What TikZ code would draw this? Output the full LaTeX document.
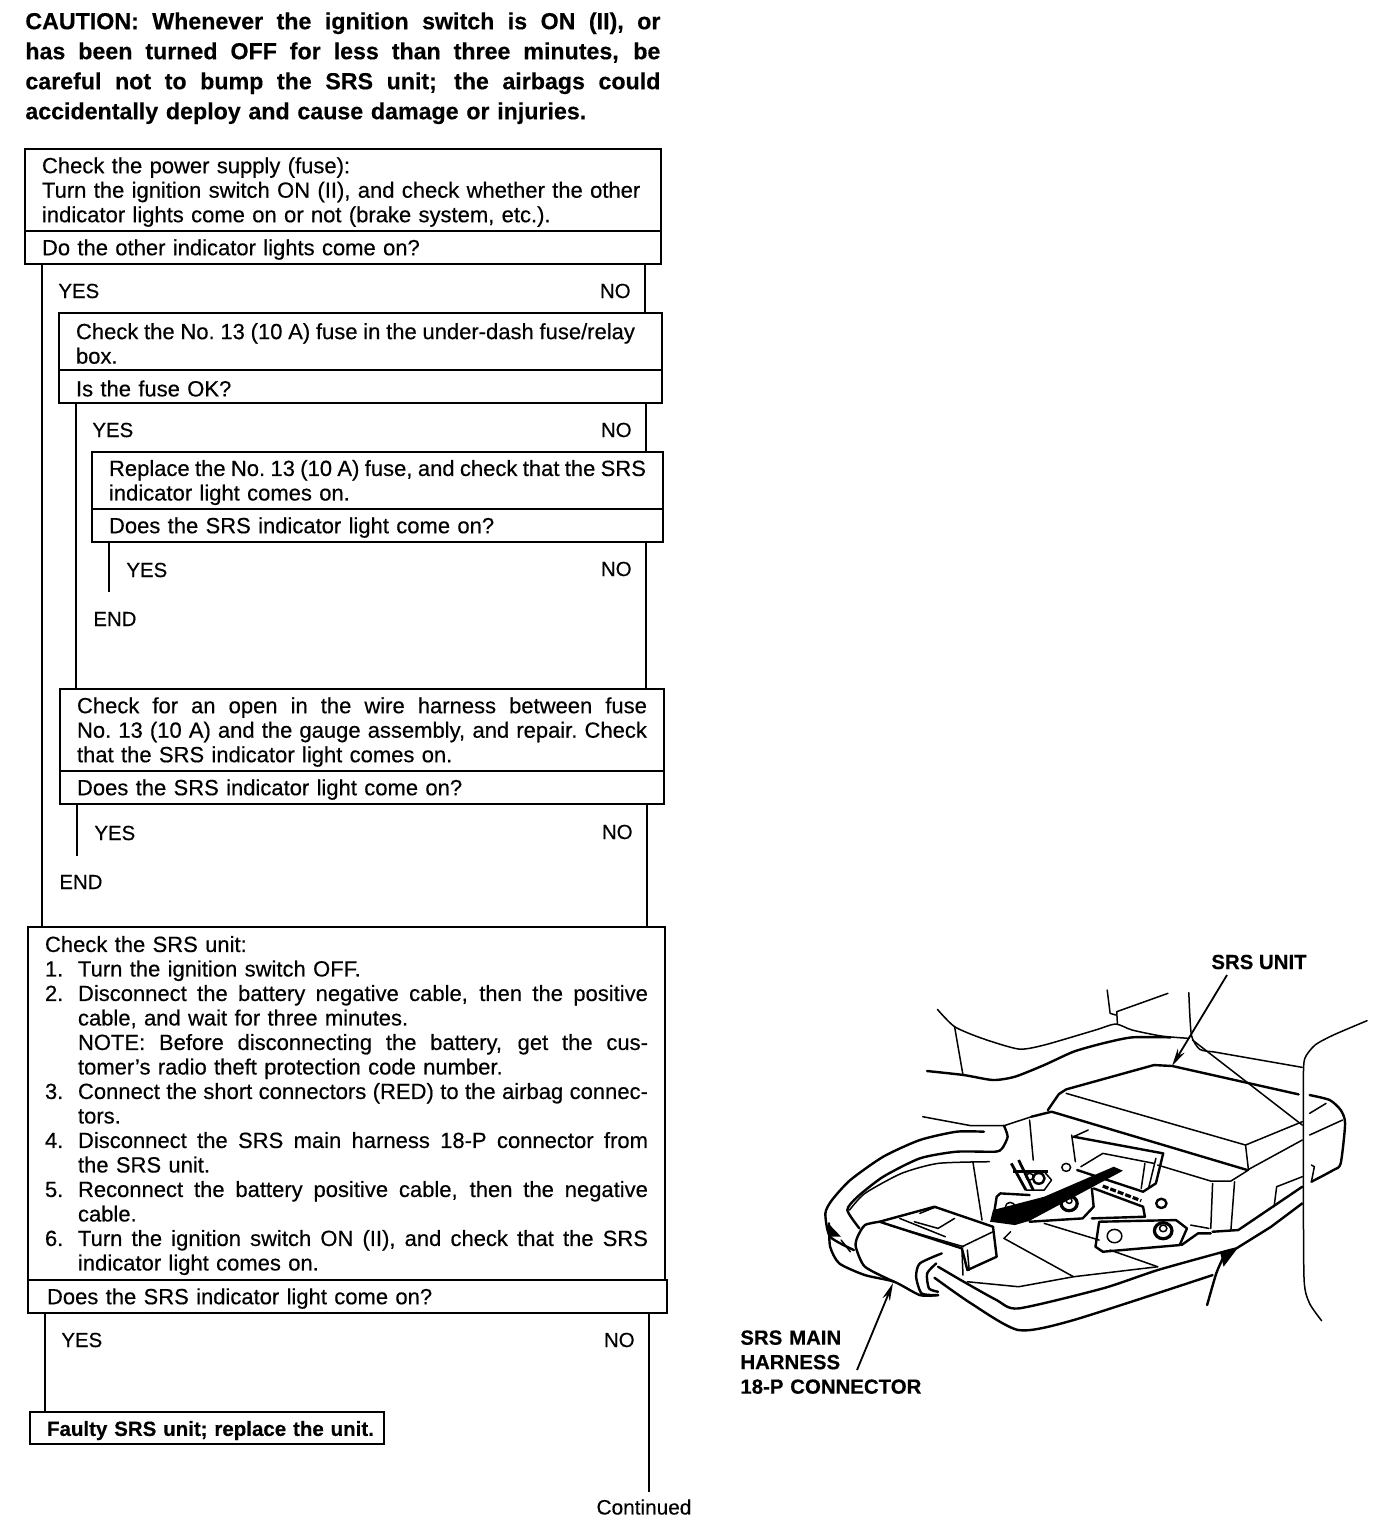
\documentclass[tikz,border=0pt]{standalone}
\usepackage{fontspec}
\setmainfont{Liberation Sans}[FakeBold=0.4]
\usepackage{tikz}
\usetikzlibrary{arrows.meta,positioning}

% one text line stretched to a width, list lines with a hanging number
\newcommand{\fline}[2]{\makebox[#1][s]{\spaceskip=.278em plus 1em minus .15em\xspaceskip=\spaceskip #2}}
\newcommand{\jline}[1]{\fline{\hsize}{#1}}
\newcommand{\numjust}[2]{\makebox[16.5pt][l]{#1}\fline{\dimexpr\hsize-16.5pt\relax}{#2}}
\newcommand{\numline}[2]{\makebox[16.5pt][l]{#1}#2}
\newcommand{\hangl}[1]{\hspace*{16.5pt}#1}

\begin{document}
\begin{tikzpicture}[
    x=0.5pt, y=-0.5pt,
    every node/.style={font=\fontsize{11}{12.25}\selectfont},
    checkbox/.style={
        draw, rectangle,
        line width=0.9pt,
        anchor=north west,
        align=left,
        inner xsep=8.5pt,
        inner ysep=0pt,
        outer sep=0pt,
        execute at begin node={\rule{0pt}{10pt}}
    },
    querybox/.style={
        checkbox,
        anchor=north,
        minimum height=16.5pt
    },
    answer/.style={inner sep=0pt, font=\fontsize{10.2}{12.25}\selectfont},
    flow/.style={line width=0.9pt},
    caution/.style={
        anchor=north west,
        align=left,
        inner sep=0pt,
        text width=317.5pt,
        font=\fontsize{11.6}{15}\selectfont\bfseries
    },
    partname/.style={
        align=left,
        inner sep=0pt,
        font=\fontsize{10.2}{12.25}\selectfont\bfseries
    },
    leader/.style={-{Stealth[length=9pt,width=4pt]}, line width=0.9pt},
    fig/.style={line width=0.75pt, line join=round, line cap=round},
    figb/.style={line width=1.2pt, line join=round, line cap=round}
]
\useasboundingbox (0,0) rectangle (1392,1532);

%% ── Caution text ──────────────────────────────────────
\node[caution] (cautiontext) at (25,12) {%
    \jline{CAUTION: Whenever the ignition switch is ON (II), or}\\
    \jline{has been turned OFF for less than three minutes, be}\\
    \jline{careful not to bump the SRS unit; the airbags could}\\
    accidentally deploy and cause damage or injuries.};

%% ── Power supply check ────────────────────────────────
\node[checkbox, text width=301pt, minimum height=41pt] (check1) at (25,149) {%
    Check the power supply (fuse):\\
    Turn the ignition switch ON (II), and check whether the other\\
    indicator lights come on or not (brake system, etc.).};
\node[querybox, text width=301pt, below=0pt of check1] (query1)
    {Do the other indicator lights come on?};
\coordinate (yes1) at (42,264);
\coordinate (no1) at (645,264);
\node[answer, anchor=west] (yes1t) at (58,291) {YES};
\node[answer, anchor=east] (no1t) at (631,291) {NO};

%% ── Fuse check ────────────────────────────────────────
\node[checkbox, text width=284.5pt, minimum height=28.5pt] (check2) at (59,313) {%
    \fline{279.5pt}{Check the No. 13 (10 A) fuse in the under-dash fuse/relay}\\
    box.};
\node[querybox, text width=284.5pt, below=0pt of check2] (query2)
    {Is the fuse OK?};
\coordinate (yes2) at (76,403);
\coordinate (no2) at (646,403);
\node[answer, anchor=west] (yes2t) at (92,430) {YES};
\node[answer, anchor=east] (no2t) at (632,430) {NO};

%% ── Fuse replacement ──────────────────────────────────
\node[checkbox, text width=268.5pt, minimum height=28.5pt] (check3) at (92,452) {%
    \jline{Replace the No. 13 (10 A) fuse, and check that the SRS}\\
    indicator light comes on.};
\node[querybox, text width=268.5pt, below=0pt of check3] (query3)
    {Does the SRS indicator light come on?};
\coordinate (yes3) at (109,542);
\coordinate (no3) at (646,542);
\coordinate (yes3e) at (109,592);
\node[answer, anchor=west] (yes3t) at (126,570) {YES};
\node[answer, anchor=east] (no3t) at (632,569) {NO};
\node[answer, anchor=west] (end3) at (93,619) {END};

%% ── Wire harness repair ───────────────────────────────
\node[checkbox, text width=285pt, minimum height=41pt] (check4) at (60,689) {%
    \jline{Check for an open in the wire harness between fuse}\\
    \jline{No. 13 (10 A) and the gauge assembly, and repair. Check}\\
    that the SRS indicator light comes on.};
\node[querybox, text width=285pt, below=0pt of check4] (query4)
    {Does the SRS indicator light come on?};
\coordinate (yes4) at (77,804);
\coordinate (no4) at (647,804);
\coordinate (yes4e) at (77,856);
\node[answer, anchor=west] (yes4t) at (94,833) {YES};
\node[answer, anchor=east] (no4t) at (633,832) {NO};
\node[answer, anchor=west] (end4) at (59,882) {END};

%% ── SRS unit check ────────────────────────────────────
\node[checkbox, text width=301.5pt, minimum height=176.5pt] (check5) at (28,927) {%
    Check the SRS unit:\\
    \numline{1.}{Turn the ignition switch OFF.}\\
    \numjust{2.}{Disconnect the battery negative cable, then the positive}\\
    \hangl{cable, and wait for three minutes.}\\
    \numjust{}{NOTE: Before disconnecting the battery, get the cus-}\\
    \hangl{tomer's radio theft protection code number.}\\
    \numjust{3.}{Connect the short connectors (RED) to the airbag connec-}\\
    \hangl{tors.}\\
    \numjust{4.}{Disconnect the SRS main harness 18-P connector from}\\
    \hangl{the SRS unit.}\\
    \numjust{5.}{Reconnect the battery positive cable, then the negative}\\
    \hangl{cable.}\\
    \numjust{6.}{Turn the ignition switch ON (II), and check that the SRS}\\
    \hangl{indicator light comes on.}};
\node[querybox, anchor=north west, inner xsep=9.5pt, text width=300.5pt] (query5) at (check5.south west)
    {Does the SRS indicator light come on?};
\coordinate (yes5) at (45,1313);
\coordinate (no5) at (649,1313);
\coordinate (no5e) at (649,1492);
\node[answer, anchor=west] (yes5t) at (61,1340) {YES};
\node[answer, anchor=east] (no5t) at (635,1340) {NO};
\node[checkbox, line width=1.1pt, text width=160pt, minimum height=16pt, execute at begin node={}, font=\fontsize{10.25}{12.25}\selectfont\bfseries] (faulty) at (30,1412)
    {\mbox{Faulty SRS unit; replace the unit.}};
\node[answer, anchor=north, font=\fontsize{10.4}{12}\selectfont] (continued) at (644,1499) {Continued};

%% ── Flow lines ────────────────────────────────────────
\draw[flow] (yes1) -- (yes1 |- check5.north);
\draw[flow] (no1) -- (no1 |- check2.north);
\draw[flow] (yes2) -- (yes2 |- check4.north);
\draw[flow] (no2) -- (no2 |- check3.north);
\draw[flow] (yes3) -- (yes3e);
\draw[flow] (no3) -- (no3 |- check4.north);
\draw[flow] (yes4) -- (yes4e);
\draw[flow] (no4) -- (no4 |- check5.north);
\draw[flow] (yes5) -- (yes5 |- faulty.north);
\draw[flow] (no5) -- (no5e);

%% ── Part labels ───────────────────────────────────────
\node[partname, anchor=west] (srsunit) at (1211,962) {SRS UNIT};
\node[partname, anchor=north west, text width=100pt] (mainconn) at (740,1330)
    {SRS MAIN\\HARNESS\\18-P CONNECTOR};
\coordinate (unitfrom) at (1227,975);
\coordinate (unittip) at (1172,1066);
\coordinate (connfrom) at (857,1370);
\coordinate (conntip) at (893,1283);
\draw[leader] (unitfrom) -- (unittip);
\draw[leader] (connfrom) -- (conntip);

%% ── Illustration ──────────────────────────────────────
\begin{scope}[shift={(810,980)}, x=0.183pt, y=-0.1667pt]
    % surroundings
    \draw[fig] plot[smooth, tension=0.4] coordinates {(348,88) (395,140) (470,175) (570,207) (640,195) (780,150) (835,132) (880,150) (960,168) (1035,175)};
    \draw[fig] (395,140) -- (418,285);
    \draw[figb] plot[smooth, tension=0.4] coordinates {(320,273) (420,285) (500,300) (560,290) (640,255) (720,215) (800,190) (880,172) (985,172)};
    \draw[fig] (812,30) -- (820,100) -- (835,105);
    \draw[fig] (978,40) -- (838,95) -- (840,132);
    \draw[fig] plot[smooth, tension=0.4] coordinates {(1035,38) (1042,165) (1065,208) (1100,215)};
    \draw[fig] (1100,215) -- (1345,262);
    \draw[fig] (1045,180) -- (1345,435);
    \draw[fig] plot[smooth, tension=0.4] coordinates {(1522,122) (1430,165) (1380,195) (1352,235) (1348,300) (1348,600) (1350,900) (1365,970) (1398,1022)};
    % unit housing
    \draw[figb] (650,390) -- (680,342) -- (700,328) -- (940,255) -- (990,258) -- (1335,343);
    \draw[fig] (700,340) -- (1190,495) -- (1345,425);
    \draw[figb] (605,410) -- (660,395) -- (1195,570);
    \draw[fig] (1190,495) -- (1198,570) -- (1150,603) -- (1095,603) -- (950,555);
    \draw[fig] (1100,610) -- (1095,745);
    \draw[fig] (1160,605) -- (1150,750);
    \draw[fig] (1195,570) -- (1345,480);
    \draw[figb] plot[smooth, tension=0.4] coordinates {(1365,345) (1420,360) (1450,390) (1462,430) (1450,550) (1430,570) (1370,605)};
    \draw[fig] (1365,400) -- (1410,370);
    \draw[fig] (1365,465) -- (1455,420);
    \draw[fig] (1370,555) -- (1378,560) -- (1370,605);
    \draw[fig] (1345,590) -- (1275,620) -- (1268,680);
    % socket
    \draw[figb] (720,470) -- (965,520) -- (945,610) -- (910,635) -- (730,570);
    \draw[fig] (715,465) -- (725,545);
    \draw[fig] (760,450) -- (720,470);
    \draw[fig] (600,420) -- (610,540);
    \draw[fig] (915,550) -- (905,625);
    \draw[fig] (945,535) -- (925,625);
    \draw[fig] (740,560) -- (800,520) -- (940,550);
    \draw[fig] (700,562) circle (12);
    \draw[figb] (960,670) circle (14);
    % harness loop
    \draw[fig] (308,410) -- (440,437) -- (530,437) -- (605,410);
    \draw[figb] plot[smooth, tension=0.4] coordinates {(475,455) (400,455) (300,480) (200,530) (110,600) (60,660) (42,700) (55,770) (120,810)};
    \draw[figb] plot[smooth, tension=0.4] coordinates {(530,437) (540,470) (525,505) (505,515) (400,515) (300,535) (200,590) (130,650) (102,690) (135,745)};
    \draw[fig] plot[smooth, tension=0.4] coordinates {(108,690) (150,640) (250,580) (350,550) (490,545)};
    \draw[fig] (445,545) -- (470,720);
    \draw[figb] plot[smooth, tension=0.4] coordinates {(52,730) (55,800) (80,850) (150,885) (230,905) (300,945) (350,945)};
    \draw[fig] (85,780) -- (110,815);
    % connector body
    \draw[figb] plot[smooth, tension=0.4] coordinates {(190,725) (150,735) (130,770) (125,800) (150,860) (230,905)};
    \draw[figb] (190,725) -- (340,680) -- (500,740) -- (510,830) -- (430,870) -- (415,805) -- cycle;
    \draw[fig] (215,735) -- (420,800);
    \draw[fig] (415,800) -- (500,755);
    \draw[fig] (430,810) -- (435,870);
    \draw[fig] (245,715) -- (370,770);
    \draw[fig] (285,725) -- (350,745) -- (395,715);
    \draw[fig] (300,700) -- (345,680);
    \draw[fig] (415,805) -- (418,885);
    % nozzle and lower tube
    \draw[figb] plot[smooth, tension=0.4] coordinates {(360,820) (300,850) (290,890) (305,940) (350,945)};
    \draw[figb] plot[smooth, tension=0.4] coordinates {(345,850) (320,880) (325,925) (350,935)};
    \draw[figb] plot[smooth, tension=0.4] coordinates {(340,893) (440,970) (570,1050) (720,1020) (1100,885)};
    \draw[figb] plot[smooth, tension=0.4] coordinates {(350,860) (420,905) (510,960) (570,985) (800,925) (950,870) (1130,815) (1165,805)};
    \draw[figb] (1165,805) -- (1260,740) -- (1345,670);
    \draw[figb] (1100,755) -- (1170,750) -- (1345,620);
    \draw[figb] plot[smooth, tension=0.4] coordinates {(1130,830) (1110,880) (1085,975)};
    \fill (1120,815) -- (1168,805) -- (1130,860) -- cycle;
    \fill (50,730) -- (85,770) -- (55,770) -- cycle;
    % floor
    \draw[fig] (430,905) -- (570,920) -- (720,890) -- (950,860);
    \draw[fig] (530,775) -- (720,890);
    \draw[fig] (530,775) -- (548,755);
    \draw[fig] (820,810) -- (950,860);
    \draw[fig] (640,730) -- (790,780);
    % brackets
    \draw[figb] (500,720) -- (510,650) -- (520,640) -- (600,645);
    \draw[figb] (770,625) -- (775,680) -- (745,715) -- (600,725);
    \draw[fig] (547,680) circle (13);
    \draw[line width=1.6pt] (708,670) circle (22);
    \draw[fig] (708,662) circle (8);
    \draw[figb] (775,625) -- (910,680) -- (915,710) -- (770,715);
    \draw[figb] (790,725) -- (780,800) -- (800,815) -- (1010,795) -- (1030,745) -- (1000,720) -- cycle;
    \draw[fig] (832,768) circle (20);
    \draw[line width=1.6pt] (965,752) circle (24);
    \draw[fig] (965,745) circle (10);
    \draw[fig] (1040,735) -- (1090,745);
    \draw[figb] (1015,795) -- (1060,760) -- (1095,760);
    \draw[line width=1.6pt, dash pattern=on 3pt off 1pt] (800,618) -- (905,662);
    % terminal cluster
    \draw[line width=1.4pt] (550,550) -- (590,630);
    \draw[line width=1.4pt] (570,540) -- (610,630);
    \draw[line width=1.4pt] (555,575) -- (650,575);
    \draw[figb] (625,595) circle (16);
    \draw[fig] (600,590) circle (10);
    \draw[fig] (640,575) -- (660,600) -- (640,630) -- (590,630);
    % heavy arrow
    \fill (855,572) -- (830,560) -- (640,650) -- (500,690) -- (492,725) -- (560,735) -- (600,722) -- cycle;
\end{scope}
\end{tikzpicture}
\end{document}
